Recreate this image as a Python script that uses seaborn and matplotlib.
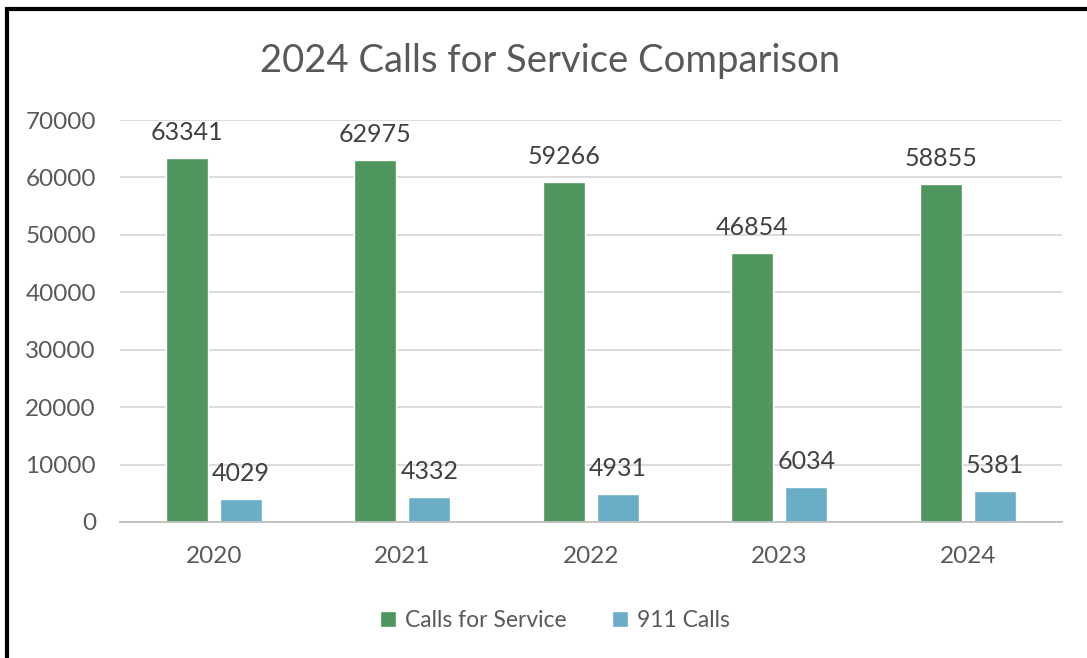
import matplotlib
matplotlib.use("Agg")
import matplotlib.pyplot as plt
import seaborn as sns
import pandas as pd
from matplotlib.patches import Rectangle

# data
years = ["2020", "2021", "2022", "2023", "2024"]
calls_for_service = [63341, 62975, 59266, 46854, 58855]
calls_911 = [4029, 4332, 4931, 6034, 5381]
series_names = ["Calls for Service", "911 Calls"]
colors = ["#4E965D", "#6AADC6"]

df = pd.DataFrame({
    "Year": years * 2,
    "Calls": calls_for_service + calls_911,
    "Series": [series_names[0]] * len(years) + [series_names[1]] * len(years),
})

sns.set_style("white")
plt.rcParams["font.family"] = ["Lato", "DejaVu Sans"]

fig = plt.figure(figsize=(10.87, 6.58), dpi=100)
ax = fig.add_axes([0.110, 0.2067, 0.867, 0.6109])

sns.barplot(data=df, x="Year", y="Calls", hue="Series", palette=colors,
            width=0.575, gap=0.224, ax=ax, legend=True, saturation=1)

# data labels
for cont in ax.containers:
    ax.bar_label(cont, labels=[f"{int(v)}" for v in cont.datavalues],
                 padding=10, fontsize=18, color="#404040")

ax.set_xlim(-0.5, 4.5)
ax.set_ylim(0, 70000)
ax.set_yticks(range(0, 70001, 10000))
ax.yaxis.grid(True, color="#D9D9D9", linewidth=1.3)
ax.set_axisbelow(True)
ax.set_xlabel("")
ax.set_ylabel("")
ax.tick_params(axis="both", length=0, labelsize=17.5, labelcolor="#595959")
ax.tick_params(axis="y", pad=17)
ax.tick_params(axis="x", pad=17)
sns.despine(ax=ax, left=True, top=True, right=True)
ax.spines["bottom"].set_color("#BFBFBF")
ax.spines["bottom"].set_linewidth(1.3)

ax.legend(loc="center", bbox_to_anchor=(0.462, -0.245), ncol=2, frameon=False,
          fontsize=16.5, labelcolor="#595959", handlelength=0.7, handleheight=0.7,
          handletextpad=0.4, columnspacing=2.0)

fig.text(0.506, 0.907, "2024 Calls for Service Comparison", ha="center",
         va="center", fontsize=27.5, color="#595959")

# outer black frame of the chart image
fig.patches.append(Rectangle((7 / 1087, -0.05), 1.2, 0.05 + 1 - 9 / 658,
                             transform=fig.transFigure, fill=False,
                             edgecolor="black", linewidth=3))

fig.savefig("out.png", dpi=100, facecolor="white")
